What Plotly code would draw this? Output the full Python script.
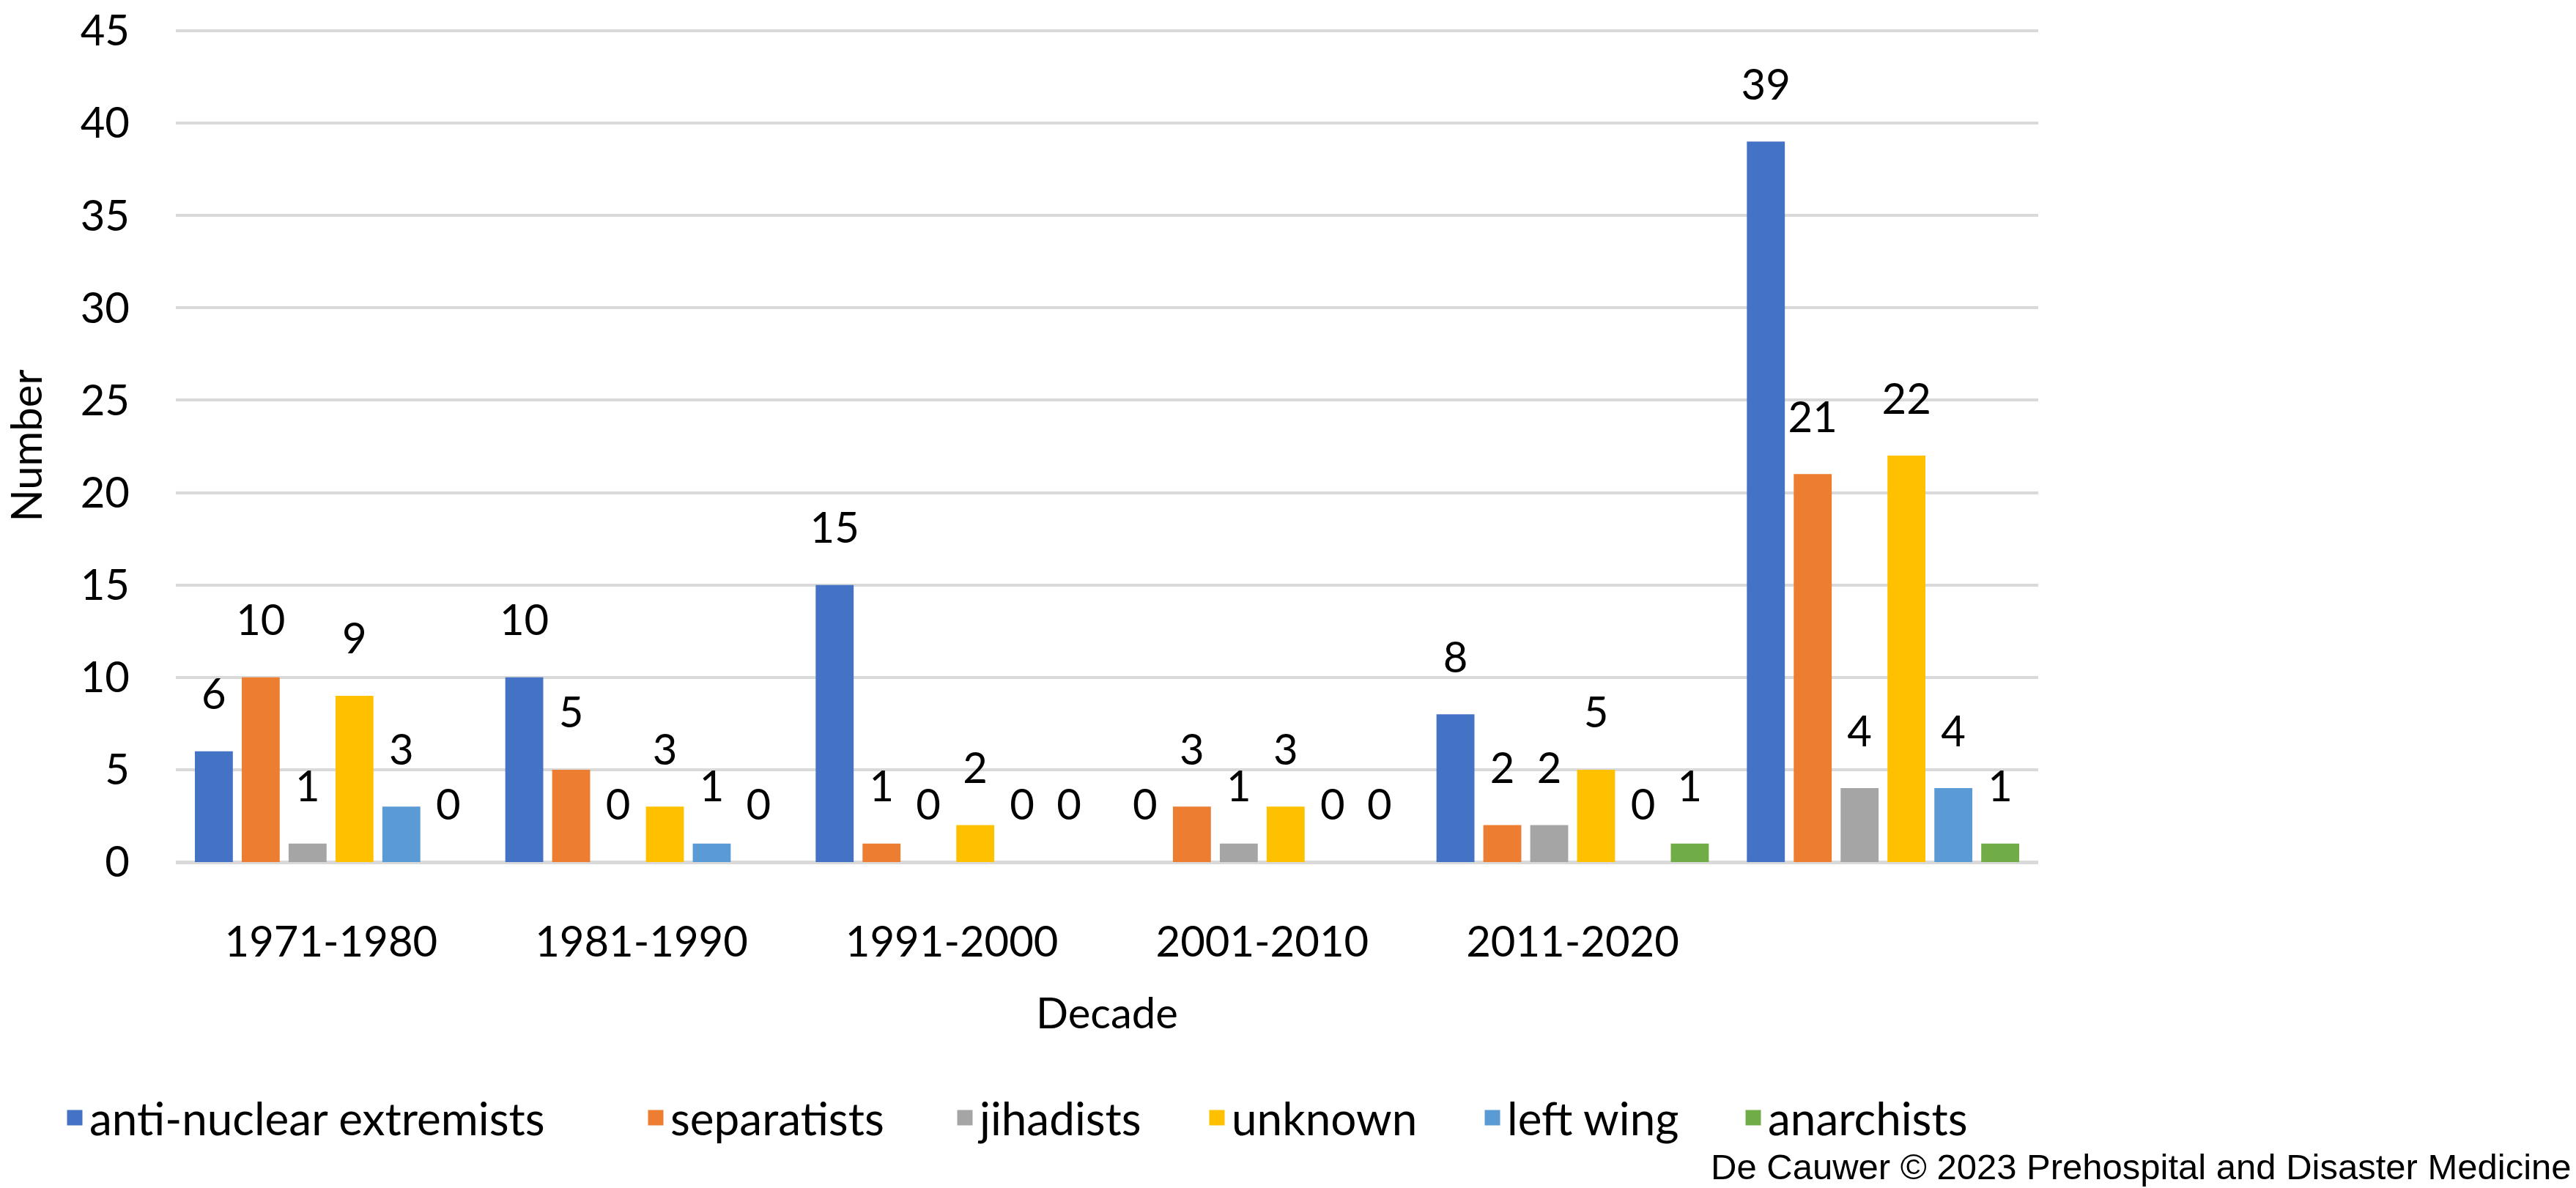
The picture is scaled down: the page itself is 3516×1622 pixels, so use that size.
import plotly.graph_objects as go

# ---- data ----
decades = ["1971-1980", "1981-1990", "1991-2000", "2001-2010", "2011-2020", " "]
series_names = ["anti-nuclear extremists", "separatists", "jihadists", "unknown", "left wing", "anarchists"]
anti_nuclear = [6, 10, 15, 0, 8, 39]
separatists = [10, 5, 1, 3, 2, 21]
jihadists = [1, 0, 0, 1, 2, 4]
unknown = [9, 3, 2, 3, 5, 22]
left_wing = [3, 1, 0, 0, 0, 4]
anarchists = [0, 0, 0, 0, 1, 1]
series_values = [anti_nuclear, separatists, jihadists, unknown, left_wing, anarchists]
series_colors = ["#4472C4", "#ED7D31", "#A5A5A5", "#FFC000", "#5B9BD5", "#70AD47"]
y_ticks = [0, 5, 10, 15, 20, 25, 30, 35, 40, 45]

# ---- layout constants (pixels) ----
W, H = 3516, 1622
PLOT_L, PLOT_R, PLOT_T, PLOT_B = 240, 2782, 40, 1177
FONT = "Lato"
FS = 58
LEGEND_FS = 62
legend_left_px = [82, 875, 1297, 1641, 2017, 2373]

fig = go.Figure()
for name, vals, col in zip(series_names, series_values, series_colors):
    fig.add_trace(go.Bar(
        x=decades, y=vals, name=name, legendgroup=name, showlegend=False,
        marker=dict(color=col, line=dict(width=0)),
        texttemplate="<span style='font-size:%dpx'>%%{y}</span><br><span style='font-size:2px'>\u00a0</span>" % FS,
        textposition="outside", constraintext="none", cliponaxis=False,
        textfont=dict(family=FONT, size=42, color="#000000"),
    ))

legend_layouts = {}
for i, (name, col) in enumerate(zip(series_names, series_colors)):
    key = "legend" if i == 0 else "legend%d" % (i + 1)
    fig.add_trace(go.Scatter(
        x=[None], y=[None], mode="markers", name=name, legendgroup=name, legend=key,
        marker=dict(symbol="square", size=16, color=col, line=dict(color=col, width=5)),
    ))
    legend_layouts[key] = dict(
        orientation="h", xref="container", yref="container",
        x=legend_left_px[i] / W, xanchor="left", y=0.059, yanchor="middle",
        font=dict(family=FONT, size=LEGEND_FS, color="#000000"),
        itemsizing="trace", bgcolor="rgba(0,0,0,0)", borderwidth=0,
    )

fig.update_layout(
    width=W, height=H,
    margin=dict(l=PLOT_L, r=W - PLOT_R, t=PLOT_T, b=H - PLOT_B, autoexpand=False),
    paper_bgcolor="white", plot_bgcolor="white",
    barmode="group", bargap=0.094, bargroupgap=0.19,
    font=dict(family=FONT, size=FS, color="#000000"),
    xaxis=dict(type="category", showgrid=False, showline=False, ticks="",
               ticklabelstandoff=70,
               tickfont=dict(family=FONT, size=FS, color="#000000"),
               title=dict(text="Decade", standoff=46,
                          font=dict(family=FONT, size=FS, color="#000000"))),
    yaxis=dict(range=[0, 45.08], tickvals=y_ticks, showgrid=True, gridcolor="#D9D9D9",
               gridwidth=4, zeroline=True, zerolinecolor="#D9D9D9", zerolinewidth=5,
               showline=False, ticks="", ticklabelstandoff=62, ticklabeloverflow="allow",
               tickfont=dict(family=FONT, size=FS, color="#000000"),
               title=dict(text="Number", standoff=54,
                          font=dict(family=FONT, size=FS, color="#000000"))),
    **legend_layouts,
)

fig.add_annotation(
    text="De Cauwer \u00a9 2023 Prehospital and Disaster Medicine",
    xref="paper", yref="paper",
    x=(3512 - PLOT_L) / (PLOT_R - PLOT_L), y=-(H - PLOT_B) / (PLOT_B - PLOT_T),
    xanchor="right", yanchor="bottom", showarrow=False,
    font=dict(family="Liberation Sans, Arial", size=49, color="#000000"),
)

fig.write_html("out.html", config={"displayModeBar": False},
               post_script="document.body.style.margin='0';document.body.style.overflow='hidden';")
